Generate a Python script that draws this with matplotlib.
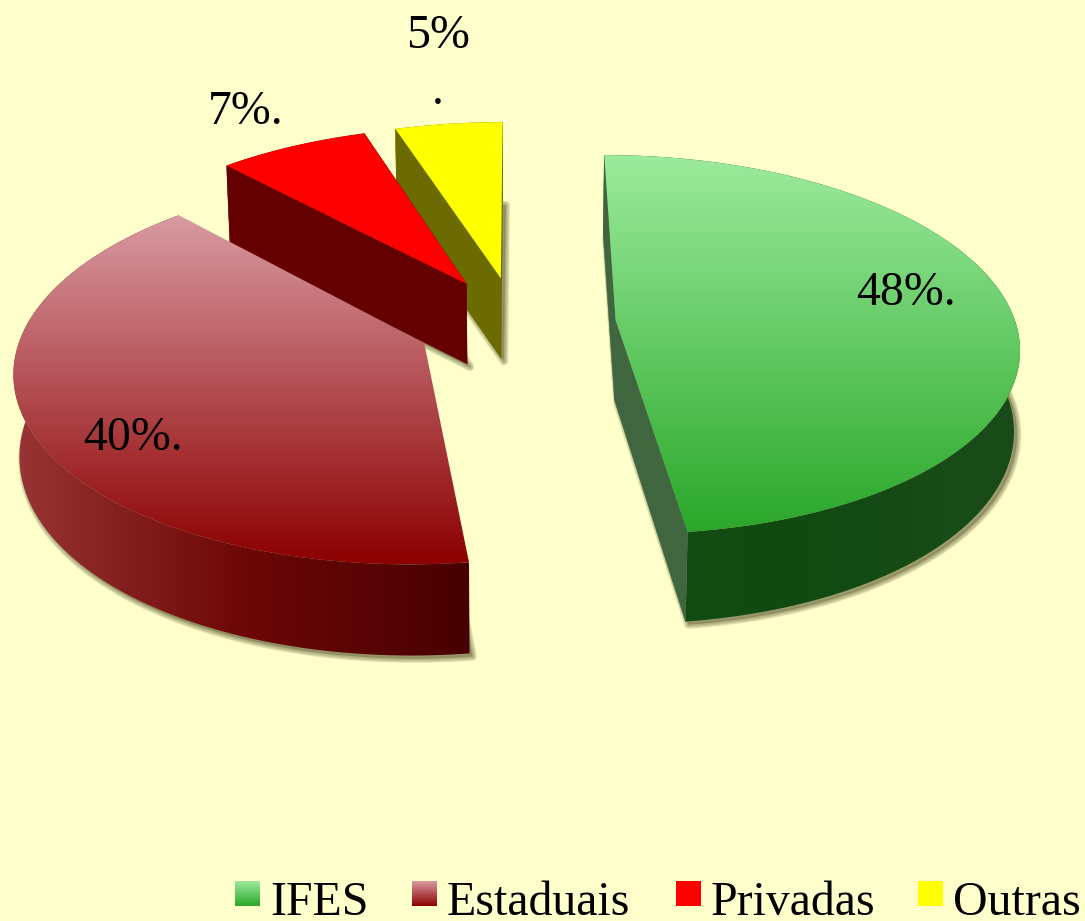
import matplotlib
matplotlib.use("Agg")
import matplotlib.pyplot as plt
import numpy as np

from matplotlib.colors import LinearSegmentedColormap
from matplotlib.patches import Polygon
from matplotlib.path import Path

# data
categories = ["IFES", "Estaduais", "Privadas", "Outras"]
values = [48, 40, 7, 5]
value_labels = ["48%.", "40%.", "7%.", "5%\n."]

# top face (back to front), arc side (left to right), flat side
top_colors = [["#9ceb9c", "#2aa72a"], ["#d99ba3", "#8c0000"], ["#ff0000", "#ff0000"], ["#ffff00", "#ffff00"]]
arc_colors = [["#114d11", "#124a12", "#1a4c1a"], ["#9a3535", "#6e0808", "#480000"], ["#640000", "#640000", "#640000"], ["#6b6b00", "#6b6b00", "#6b6b00"]]
side_colors = ["#3f663f", "#640000", "#640000", "#6b6b00"]

BG = "#ffffcc"
CX, CY = 516, 323
RX, RY = 400, 187
PERSP = 0.129
EXPLODE = 0.25
DEPTH = 80
BOTTOM_SHRINK = 0.988


def project(u, v):
    """Unit ground coordinates to picture pixels, with a little perspective."""
    s = 1 / (1 + PERSP * v)
    return CX + RX * u * s, CY - RY * v * s, s


def bottom_of(x, y, s):
    # walls keep their height at the back and only grow towards the viewer
    return CX + (x - CX) * BOTTOM_SHRINK, y + DEPTH * np.maximum(s, 1) ** 0.85


def gradient_fill(ax, xy, colors, horizontal=False, zorder=1):
    # imshow clipped to a polygon, there is no gradient patch in matplotlib
    xmin, ymin = xy.min(axis=0)
    xmax, ymax = xy.max(axis=0)
    cmap = LinearSegmentedColormap.from_list("g", colors)
    grad = np.linspace(0, 1, 256)
    grad = grad.reshape(1, -1) if horizontal else grad.reshape(-1, 1)
    im = ax.imshow(grad, cmap=cmap, extent=(xmin, xmax, ymax, ymin), aspect="auto", zorder=zorder, interpolation="bilinear")
    clip = Polygon(xy, closed=True, transform=ax.transData, facecolor="none", edgecolor="none")
    ax.add_patch(clip)
    im.set_clip_path(clip)


def draw_slice(ax, start, stop, i, zorder):
    mid = np.radians((start + stop) / 2)
    off_u, off_v = EXPLODE * np.sin(mid), EXPLODE * np.cos(mid)

    t = np.radians(np.linspace(start, stop, 120))
    ax_x, ax_y, ax_s = project(off_u + np.sin(t), off_v + np.cos(t))
    ap_x, ap_y, ap_s = project(off_u, off_v)
    bx, by = bottom_of(ax_x, ax_y, ax_s)
    apb_x, apb_y = bottom_of(ap_x, ap_y, ap_s)
    top = np.column_stack([np.r_[ap_x, ax_x], np.r_[ap_y, ax_y]])

    # soft shadow from the bottom face
    bottom = np.column_stack([np.r_[apb_x, bx] + 3, np.r_[apb_y, by] + 3])
    for lw in [6, 4, 2]:
        ax.add_patch(Polygon(bottom, closed=True, facecolor="#77774a", edgecolor="#77774a", alpha=0.25, lw=lw, joinstyle="round", zorder=zorder))

    # outer wall
    wall = np.column_stack([np.r_[ax_x, bx[::-1]], np.r_[ax_y, by[::-1]]])
    gradient_fill(ax, wall, arc_colors[i], horizontal=True, zorder=zorder + 0.1)

    # radial sides, only the ones that are not behind the top face
    for k in [0, -1]:
        lower_mid = ((apb_x + bx[k]) / 2, (apb_y + by[k]) / 2)
        if Path(top).contains_point(lower_mid):
            continue
        quad = np.array([[ap_x, ap_y], [ax_x[k], ax_y[k]], [bx[k], by[k]], [apb_x, apb_y]])
        ax.add_patch(Polygon(quad, closed=True, facecolor=side_colors[i], edgecolor=side_colors[i], lw=0.3, zorder=zorder + 0.2))

    # top
    gradient_fill(ax, top, top_colors[i], zorder=zorder + 0.3)


fig = plt.figure(figsize=(10.85, 9.21), dpi=100, facecolor=BG)
ax = fig.add_axes([0, 0, 1, 1])
ax.set_xlim(0, 1085)
ax.set_ylim(921, 0)
ax.axis("off")

edges = np.r_[0, np.cumsum(values)] * 360 / np.sum(values)

# painter's order, back slices first
for z, i in enumerate([3, 2, 1, 0]):
    draw_slice(ax, edges[i], edges[i + 1], i, (z + 1) * 2)

font = {"family": "Liberation Serif", "size": 34.5, "color": "#000000", "zorder": 20}

ax.text(906, 305, value_labels[0], ha="center", va="baseline", **font)
ax.text(133, 450, value_labels[1], ha="center", va="baseline", **font)
ax.text(246, 124, value_labels[2], ha="center", va="baseline", **font)
ax.text(438, 114, value_labels[3], ha="center", va="bottom", linespacing=1.36, **font)

# legend
square_x = [235, 412, 676, 918]
for name, x, cols in zip(categories, square_x, top_colors):
    sq = np.array([[x, 881], [x + 25, 881], [x + 25, 906], [x, 906]])
    gradient_fill(ax, sq, cols, zorder=15)
    ax.text(x + 35, 915, name, ha="left", va="baseline", **font)

ax.set_xlim(0, 1085)
ax.set_ylim(921, 0)
fig.savefig("out.png", dpi=100, facecolor=BG)
